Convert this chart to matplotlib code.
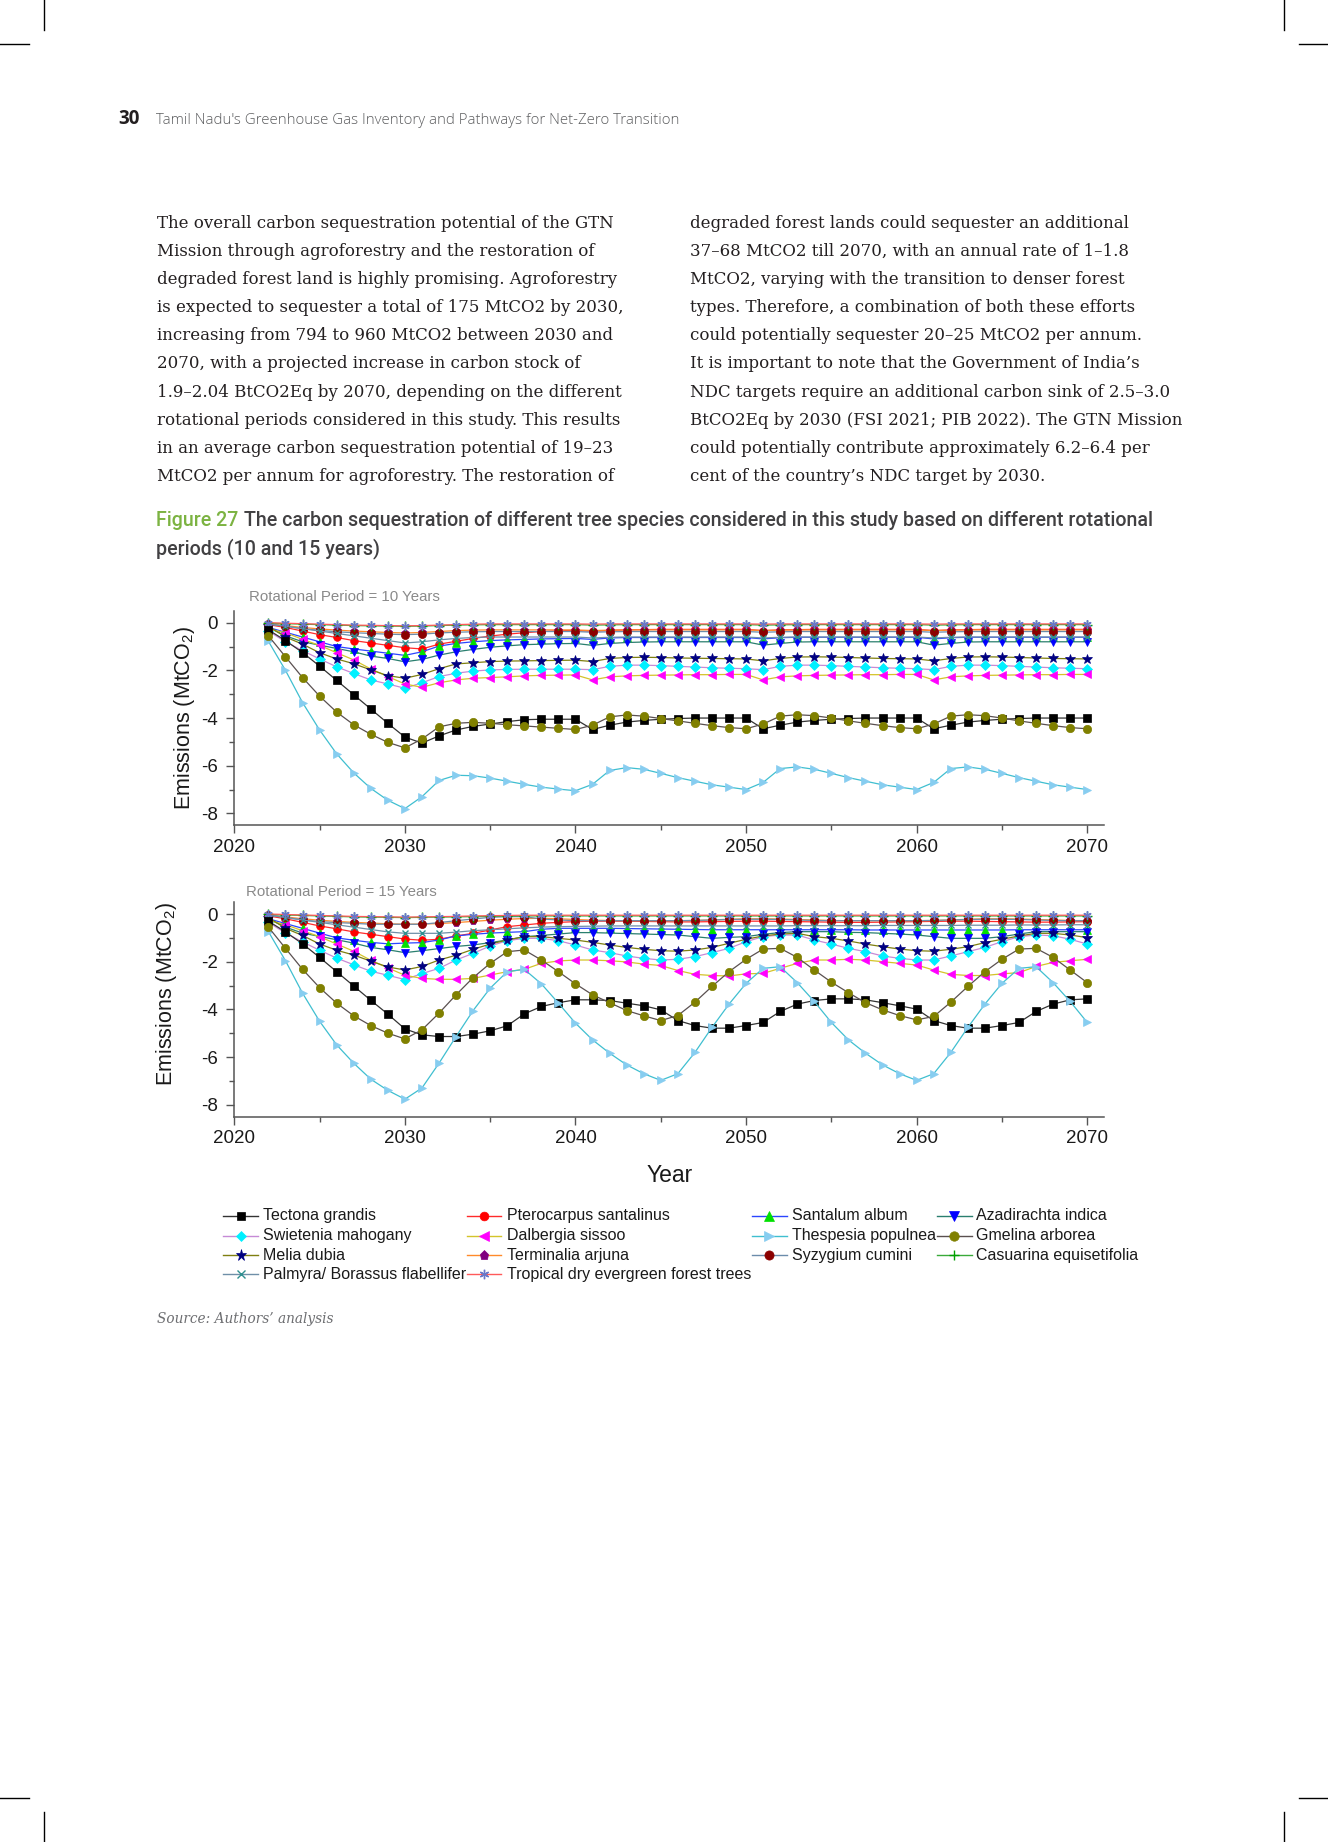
import matplotlib.pyplot as plt
from matplotlib.lines import Line2D
from matplotlib.ticker import MultipleLocator

plt.rcParams['font.family'] = ['Liberation Sans', 'DejaVu Sans']
plt.rcParams['mathtext.fontset'] = 'custom'
plt.rcParams['mathtext.rm'] = 'Liberation Sans'
plt.rcParams['mathtext.default'] = 'rm'
plt.rcParams['axes.unicode_minus'] = False

# ---------------- data ----------------
years = list(range(2022, 2071))

species = ['Tectona grandis', 'Pterocarpus santalinus', 'Santalum album', 'Azadirachta indica',
           'Swietenia mahogany', 'Dalbergia sissoo', 'Thespesia populnea', 'Gmelina arborea',
           'Melia dubia', 'Terminalia arjuna', 'Syzygium cumini', 'Casuarina equisetifolia',
           'Palmyra/ Borassus flabellifer', 'Tropical dry evergreen forest trees']

# rotational period = 10 years
tectona_10 = [-0.30, -0.75, -1.25, -1.82, -2.42, -3.02, -3.62, -4.22, -4.80, -5.05,
              -4.75, -4.50, -4.35, -4.25, -4.15, -4.07, -4.05, -4.05, -4.05, -4.48,
              -4.30, -4.17, -4.10, -4.05, -4.02, -4.00, -4.00, -4.00, -4.00, -4.45,
              -4.30, -4.17, -4.10, -4.05, -4.02, -4.00, -4.00, -4.00, -4.00, -4.45,
              -4.30, -4.17, -4.10, -4.05, -4.02, -4.00, -4.00, -4.00, -4.00]
pterocarpus_10 = [-0.08, -0.20, -0.35, -0.50, -0.62, -0.75, -0.85, -0.95, -1.05, -1.10,
                  -0.90, -0.78, -0.66, -0.56, -0.48, -0.42, -0.37, -0.34, -0.32, -0.36,
                  -0.32, -0.30, -0.29, -0.28, -0.28, -0.28, -0.28, -0.28, -0.28, -0.33,
                  -0.30, -0.29, -0.28, -0.28, -0.28, -0.28, -0.28, -0.28, -0.28, -0.33,
                  -0.30, -0.29, -0.28, -0.28, -0.28, -0.28, -0.28, -0.28, -0.28]
santalum_10 = [-0.20, -0.40, -0.60, -0.80, -1.00, -1.10, -1.19, -1.28, -1.37, -1.22,
               -0.98, -0.87, -0.80, -0.75, -0.72, -0.70, -0.68, -0.67, -0.66, -0.70,
               -0.64, -0.62, -0.62, -0.62, -0.62, -0.62, -0.62, -0.62, -0.62, -0.68,
               -0.63, -0.61, -0.61, -0.61, -0.61, -0.61, -0.61, -0.61, -0.61, -0.68,
               -0.63, -0.61, -0.61, -0.61, -0.61, -0.61, -0.61, -0.61, -0.61]
azadirachta_10 = [-0.20, -0.55, -0.80, -0.94, -1.08, -1.22, -1.40, -1.50, -1.64, -1.54,
                  -1.36, -1.22, -1.12, -1.03, -0.97, -0.92, -0.90, -0.88, -0.87, -0.95,
                  -0.87, -0.83, -0.81, -0.80, -0.80, -0.80, -0.80, -0.80, -0.80, -0.94,
                  -0.87, -0.81, -0.80, -0.80, -0.80, -0.80, -0.80, -0.80, -0.80, -0.94,
                  -0.87, -0.81, -0.80, -0.80, -0.80, -0.80, -0.80, -0.80, -0.80]
swietenia_10 = [-0.35, -0.80, -1.17, -1.52, -1.85, -2.13, -2.40, -2.57, -2.75, -2.52,
                -2.26, -2.12, -2.03, -1.98, -1.96, -1.95, -1.95, -1.95, -1.95, -1.97,
                -1.83, -1.78, -1.78, -1.80, -1.83, -1.86, -1.89, -1.91, -1.93, -1.97,
                -1.83, -1.78, -1.78, -1.80, -1.83, -1.86, -1.89, -1.91, -1.93, -1.97,
                -1.83, -1.78, -1.78, -1.80, -1.83, -1.86, -1.89, -1.91, -1.93]
dalbergia_10 = [-0.27, -0.42, -0.70, -0.95, -1.26, -1.56, -1.94, -2.26, -2.57, -2.71,
                -2.52, -2.40, -2.33, -2.30, -2.27, -2.23, -2.21, -2.20, -2.19, -2.40,
                -2.27, -2.23, -2.21, -2.20, -2.19, -2.18, -2.18, -2.17, -2.17, -2.40,
                -2.27, -2.23, -2.21, -2.20, -2.19, -2.18, -2.18, -2.17, -2.17, -2.40,
                -2.27, -2.23, -2.21, -2.20, -2.19, -2.18, -2.18, -2.17, -2.17]
thespesia_10 = [-0.78, -2.00, -3.35, -4.50, -5.50, -6.30, -6.95, -7.45, -7.80, -7.30,
                -6.62, -6.40, -6.42, -6.52, -6.65, -6.78, -6.90, -6.98, -7.05, -6.78,
                -6.20, -6.08, -6.15, -6.32, -6.50, -6.65, -6.80, -6.90, -7.00, -6.70,
                -6.12, -6.05, -6.15, -6.32, -6.50, -6.65, -6.80, -6.90, -7.00, -6.70,
                -6.12, -6.05, -6.15, -6.32, -6.50, -6.65, -6.80, -6.90, -7.00]
gmelina_10 = [-0.55, -1.43, -2.30, -3.08, -3.75, -4.28, -4.68, -5.02, -5.25, -4.88,
              -4.37, -4.22, -4.18, -4.22, -4.28, -4.33, -4.38, -4.43, -4.48, -4.30,
              -3.95, -3.87, -3.92, -4.02, -4.12, -4.22, -4.32, -4.40, -4.45, -4.25,
              -3.92, -3.86, -3.90, -4.00, -4.12, -4.22, -4.32, -4.40, -4.45, -4.25,
              -3.92, -3.86, -3.90, -4.00, -4.12, -4.22, -4.32, -4.40, -4.45]
melia_10 = [-0.15, -0.60, -0.90, -1.26, -1.52, -1.72, -1.98, -2.22, -2.33, -2.17,
            -1.93, -1.73, -1.68, -1.63, -1.61, -1.60, -1.59, -1.58, -1.57, -1.63,
            -1.50, -1.46, -1.45, -1.46, -1.48, -1.49, -1.50, -1.51, -1.52, -1.60,
            -1.50, -1.44, -1.43, -1.44, -1.46, -1.48, -1.50, -1.51, -1.52, -1.60,
            -1.50, -1.44, -1.43, -1.44, -1.46, -1.48, -1.50, -1.51, -1.52]
terminalia_10 = [-0.05, -0.12, -0.20, -0.26, -0.31, -0.35, -0.38, -0.41, -0.43, -0.41,
                 -0.37, -0.33, -0.31, -0.30, -0.30, -0.30, -0.30, -0.30, -0.30, -0.33,
                 -0.31, -0.30, -0.30, -0.30, -0.30, -0.30, -0.30, -0.30, -0.30, -0.33,
                 -0.31, -0.30, -0.30, -0.30, -0.30, -0.30, -0.30, -0.30, -0.30, -0.33,
                 -0.31, -0.30, -0.30, -0.30, -0.30, -0.30, -0.30, -0.30, -0.30]
syzygium_10 = [-0.06, -0.15, -0.25, -0.32, -0.38, -0.42, -0.45, -0.48, -0.50, -0.48,
               -0.43, -0.40, -0.38, -0.37, -0.37, -0.37, -0.37, -0.37, -0.37, -0.40,
               -0.38, -0.37, -0.37, -0.37, -0.37, -0.37, -0.37, -0.37, -0.37, -0.40,
               -0.38, -0.37, -0.37, -0.37, -0.37, -0.37, -0.37, -0.37, -0.37, -0.40,
               -0.38, -0.37, -0.37, -0.37, -0.37, -0.37, -0.37, -0.37, -0.37]
casuarina_10 = [-0.02, -0.04, -0.06, -0.08, -0.10, -0.12, -0.13, -0.14, -0.15, -0.14,
                -0.12, -0.10, -0.09, -0.08, -0.08, -0.08, -0.08, -0.08, -0.08, -0.10,
                -0.09, -0.08, -0.08, -0.08, -0.08, -0.08, -0.08, -0.08, -0.08, -0.10,
                -0.09, -0.08, -0.08, -0.08, -0.08, -0.08, -0.08, -0.08, -0.08, -0.10,
                -0.09, -0.08, -0.08, -0.08, -0.08, -0.08, -0.08, -0.08, -0.08]
palmyra_10 = [-0.05, -0.15, -0.25, -0.35, -0.45, -0.55, -0.65, -0.75, -0.85, -0.80,
              -0.72, -0.66, -0.62, -0.60, -0.60, -0.60, -0.60, -0.60, -0.60, -0.64,
              -0.61, -0.60, -0.60, -0.60, -0.60, -0.60, -0.60, -0.60, -0.60, -0.64,
              -0.61, -0.60, -0.60, -0.60, -0.60, -0.60, -0.60, -0.60, -0.60, -0.64,
              -0.61, -0.60, -0.60, -0.60, -0.60, -0.60, -0.60, -0.60, -0.60]
tropical_10 = [0.00, -0.02, -0.04, -0.06, -0.08, -0.10, -0.11, -0.12, -0.13, -0.12,
               -0.10, -0.08, -0.06, -0.05, -0.05, -0.05, -0.05, -0.05, -0.05, -0.06,
               -0.05, -0.05, -0.05, -0.05, -0.05, -0.05, -0.05, -0.05, -0.05, -0.06,
               -0.05, -0.05, -0.05, -0.05, -0.05, -0.05, -0.05, -0.05, -0.05, -0.06,
               -0.05, -0.05, -0.05, -0.05, -0.05, -0.05, -0.05, -0.05, -0.05]

# rotational period = 15 years
tectona_15 = [-0.30, -0.75, -1.25, -1.82, -2.42, -3.02, -3.62, -4.20, -4.82, -5.07,
              -5.14, -5.14, -5.04, -4.90, -4.69, -4.19, -3.88, -3.72, -3.60, -3.60,
              -3.63, -3.74, -3.85, -4.02, -4.47, -4.68, -4.79, -4.79, -4.68, -4.55,
              -4.09, -3.78, -3.63, -3.56, -3.56, -3.60, -3.72, -3.85, -3.99, -4.47,
              -4.68, -4.79, -4.79, -4.68, -4.55, -4.09, -3.78, -3.60, -3.56]
pterocarpus_15 = [-0.08, -0.20, -0.35, -0.50, -0.62, -0.75, -0.85, -0.95, -1.05, -1.10,
                  -1.06, -0.92, -0.81, -0.67, -0.53, -0.46, -0.39, -0.35, -0.32, -0.30,
                  -0.30, -0.30, -0.31, -0.32, -0.33, -0.33, -0.32, -0.31, -0.30, -0.30,
                  -0.31, -0.32, -0.33, -0.34, -0.35, -0.35, -0.34, -0.33, -0.32, -0.31,
                  -0.30, -0.30, -0.31, -0.32, -0.33, -0.34, -0.34, -0.33, -0.32]
santalum_15 = [-0.20, -0.40, -0.60, -0.80, -1.00, -1.10, -1.19, -1.25, -1.22, -1.20,
               -1.09, -0.92, -0.85, -0.80, -0.77, -0.74, -0.64, -0.60, -0.60, -0.60,
               -0.60, -0.61, -0.62, -0.63, -0.64, -0.65, -0.66, -0.66, -0.66, -0.66,
               -0.66, -0.66, -0.66, -0.66, -0.66, -0.67, -0.67, -0.67, -0.67, -0.67,
               -0.67, -0.67, -0.67, -0.67, -0.66, -0.66, -0.66, -0.66, -0.66]
azadirachta_15 = [-0.20, -0.55, -0.80, -0.94, -1.08, -1.22, -1.40, -1.50, -1.62, -1.54,
                  -1.45, -1.36, -1.30, -1.20, -1.09, -0.95, -0.90, -0.84, -0.78, -0.78,
                  -0.80, -0.82, -0.84, -0.86, -0.88, -0.95, -1.02, -0.98, -0.95, -0.85,
                  -0.78, -0.74, -0.74, -0.74, -0.77, -0.78, -0.81, -0.84, -0.88, -0.95,
                  -1.02, -1.02, -1.02, -0.95, -0.84, -0.74, -0.74, -0.74, -0.74]
swietenia_15 = [-0.35, -0.80, -1.17, -1.52, -1.85, -2.13, -2.40, -2.57, -2.75, -2.50,
                -2.28, -1.93, -1.65, -1.34, -1.12, -1.02, -1.02, -1.12, -1.30, -1.51,
                -1.62, -1.76, -1.86, -1.93, -1.90, -1.79, -1.62, -1.44, -1.16, -0.95,
                -0.88, -0.88, -1.09, -1.26, -1.44, -1.58, -1.76, -1.86, -1.93, -1.93,
                -1.76, -1.58, -1.40, -1.16, -0.95, -0.88, -0.91, -1.06, -1.26]
dalbergia_15 = [-0.27, -0.45, -0.70, -0.95, -1.26, -1.56, -1.94, -2.26, -2.57, -2.70,
                -2.74, -2.74, -2.70, -2.56, -2.42, -2.32, -2.07, -1.97, -1.93, -1.93,
                -1.96, -2.01, -2.10, -2.16, -2.37, -2.53, -2.58, -2.60, -2.51, -2.49,
                -2.28, -2.07, -1.93, -1.93, -1.90, -1.93, -2.00, -2.07, -2.14, -2.35,
                -2.53, -2.58, -2.58, -2.51, -2.46, -2.20, -2.03, -1.96, -1.90]
thespesia_15 = [-0.74, -1.96, -3.32, -4.50, -5.49, -6.26, -6.93, -7.40, -7.77, -7.30,
                -6.26, -5.14, -4.05, -3.11, -2.42, -2.32, -2.93, -3.74, -4.58, -5.28,
                -5.84, -6.33, -6.70, -6.98, -6.70, -5.81, -4.76, -3.78, -2.91, -2.28,
                -2.21, -2.88, -3.67, -4.55, -5.28, -5.84, -6.33, -6.70, -6.98, -6.70,
                -5.81, -4.76, -3.78, -2.91, -2.28, -2.21, -2.88, -3.67, -4.55]
gmelina_15 = [-0.55, -1.44, -2.32, -3.09, -3.74, -4.27, -4.68, -5.00, -5.24, -4.86,
              -4.16, -3.39, -2.67, -2.07, -1.58, -1.51, -1.93, -2.42, -2.93, -3.39,
              -3.72, -4.05, -4.27, -4.47, -4.26, -3.70, -3.04, -2.42, -1.90, -1.47,
              -1.44, -1.82, -2.35, -2.86, -3.30, -3.72, -4.02, -4.26, -4.44, -4.30,
              -3.70, -3.04, -2.42, -1.90, -1.47, -1.44, -1.82, -2.35, -2.88]
melia_15 = [-0.15, -0.60, -0.90, -1.26, -1.52, -1.72, -1.98, -2.22, -2.35, -2.20,
            -1.93, -1.73, -1.48, -1.26, -1.09, -0.95, -0.95, -1.02, -1.09, -1.19,
            -1.30, -1.40, -1.48, -1.54, -1.56, -1.51, -1.40, -1.23, -1.06, -0.92,
            -0.84, -0.81, -0.95, -1.02, -1.13, -1.26, -1.37, -1.47, -1.54, -1.56,
            -1.48, -1.37, -1.20, -1.06, -0.92, -0.81, -0.81, -0.88, -0.99]
terminalia_15 = [-0.05, -0.12, -0.20, -0.26, -0.31, -0.35, -0.38, -0.41, -0.43, -0.42,
                 -0.40, -0.36, -0.31, -0.26, -0.22, -0.19, -0.18, -0.20, -0.23, -0.26,
                 -0.27, -0.28, -0.28, -0.28, -0.28, -0.27, -0.25, -0.22, -0.20, -0.20,
                 -0.21, -0.23, -0.25, -0.27, -0.28, -0.28, -0.28, -0.28, -0.28, -0.27,
                 -0.25, -0.22, -0.20, -0.20, -0.21, -0.23, -0.25, -0.27, -0.28]
syzygium_15 = [-0.04, -0.14, -0.25, -0.32, -0.36, -0.39, -0.43, -0.43, -0.43, -0.43,
               -0.36, -0.28, -0.21, -0.14, -0.11, -0.11, -0.21, -0.25, -0.28, -0.28,
               -0.28, -0.28, -0.28, -0.28, -0.28, -0.27, -0.25, -0.23, -0.22, -0.22,
               -0.23, -0.25, -0.27, -0.28, -0.28, -0.28, -0.28, -0.28, -0.28, -0.27,
               -0.25, -0.23, -0.22, -0.22, -0.23, -0.25, -0.27, -0.28, -0.28]
casuarina_15 = [-0.02, -0.04, -0.06, -0.08, -0.10, -0.12, -0.13, -0.14, -0.15, -0.14,
                -0.13, -0.12, -0.11, -0.10, -0.09, -0.08, -0.08, -0.08, -0.08, -0.08,
                -0.08, -0.08, -0.08, -0.08, -0.08, -0.08, -0.08, -0.08, -0.08, -0.08,
                -0.08, -0.08, -0.08, -0.08, -0.08, -0.08, -0.08, -0.08, -0.08, -0.08,
                -0.08, -0.08, -0.08, -0.08, -0.08, -0.08, -0.08, -0.08, -0.08]
palmyra_15 = [-0.05, -0.15, -0.25, -0.35, -0.45, -0.55, -0.65, -0.75, -0.81, -0.81,
              -0.81, -0.76, -0.70, -0.66, -0.62, -0.58, -0.55, -0.53, -0.52, -0.51,
              -0.50, -0.50, -0.50, -0.50, -0.50, -0.50, -0.50, -0.50, -0.50, -0.50,
              -0.50, -0.49, -0.49, -0.49, -0.49, -0.49, -0.48, -0.48, -0.48, -0.48,
              -0.48, -0.47, -0.47, -0.47, -0.46, -0.46, -0.46, -0.45, -0.45]
tropical_15 = [0.00, -0.02, -0.04, -0.06, -0.08, -0.10, -0.11, -0.12, -0.13, -0.12,
               -0.11, -0.10, -0.08, -0.07, -0.06, -0.05, -0.05, -0.05, -0.05, -0.05,
               -0.05, -0.05, -0.05, -0.05, -0.05, -0.05, -0.05, -0.05, -0.05, -0.05,
               -0.05, -0.05, -0.05, -0.05, -0.05, -0.05, -0.05, -0.05, -0.05, -0.05,
               -0.05, -0.05, -0.05, -0.05, -0.05, -0.05, -0.05, -0.05, -0.05]

series_10 = [tectona_10, pterocarpus_10, santalum_10, azadirachta_10, swietenia_10,
             dalbergia_10, thespesia_10, gmelina_10, melia_10, terminalia_10,
             syzygium_10, casuarina_10, palmyra_10, tropical_10]
series_15 = [tectona_15, pterocarpus_15, santalum_15, azadirachta_15, swietenia_15,
             dalbergia_15, thespesia_15, gmelina_15, melia_15, terminalia_15,
             syzygium_15, casuarina_15, palmyra_15, tropical_15]

# Origin-style look: line colour differs from marker colour
line_colors = ['#333333', '#ff2a2a', '#2b45ff', '#2a7f6f', '#c68ad6', '#d4c42a', '#3fbfd0',
               '#5a5050', '#7f7f10', '#ff8a2a', '#6b8cab', '#3aaa3a', '#6f8fa8', '#ff5a5a']
marker_colors = ['#000000', '#ff0000', '#00e000', '#0000ff', '#00f0ff', '#ff00ff', '#87cdf0',
                 '#808000', '#000080', '#800080', '#8b0000', '#00a000', '#2f8f8f', '#6a78c8']
markers = ['s', 'o', '^', 'v', 'D', '<', '>', 'o', '*', 'p', 'o', '+', 'x', (6, 2, 0)]
msizes = [5.2, 5.5, 5.8, 5.8, 4.6, 6.0, 6.0, 6.0, 7.5, 6.0, 5.8, 6.5, 5.0, 6.0]

# ---------------- page ----------------
W, H = 1328, 1842
fig = plt.figure(figsize=(W / 100, H / 100), dpi=100, facecolor='white')
renderer = fig.canvas.get_renderer()


def text_px(x, y, s, **kw):
    return fig.text(x / W, 1 - y / H, s, **kw)


def width_of(s, size, **kw):
    t = fig.text(0, 0, s, fontsize=size, **kw)
    w = t.get_window_extent(renderer).width
    t.remove()
    return w


def fit_size(s, width, **kw):
    return 20 * width / width_of(s, 20, **kw)


def line_px(xs, ys, **kw):
    fig.add_artist(Line2D([x / W for x in xs], [1 - y / H for y in ys],
                          transform=fig.transFigure, **kw))


# crop marks
for x in (44, 1284):
    line_px([x, x], [0, 30], color='black', lw=1)
    line_px([x, x], [1812, 1842], color='black', lw=1)
for y in (44, 1798):
    line_px([0, 29], [y, y], color='black', lw=1)
    line_px([1299, 1328], [y, y], color='black', lw=1)

# running header
head_kw = dict(family=['Open Sans', 'DejaVu Sans'], fontweight='light')
head = "Tamil Nadu's Greenhouse Gas Inventory and Pathways for Net-Zero Transition"
hs = fit_size(head, 523, **head_kw)
text_px(156.5, 124.5, head, fontsize=hs, color='#5d5e60', va='baseline', **head_kw)
text_px(118.5, 124.5, '30', fontsize=hs * 1.25, color='#231f20', va='baseline',
        family=['Open Sans', 'DejaVu Sans'], fontweight='bold')

# body text
left_col = [
    "The overall carbon sequestration potential of the GTN",
    "Mission through agroforestry and the restoration of",
    "degraded forest land is highly promising. Agroforestry",
    "is expected to sequester a total of 175 MtCO2 by 2030,",
    "increasing from 794 to 960 MtCO2 between 2030 and",
    "2070, with a projected increase in carbon stock of",
    "1.9–2.04 BtCO2Eq by 2070, depending on the different",
    "rotational periods considered in this study. This results",
    "in an average carbon sequestration potential of 19–23",
    "MtCO2 per annum for agroforestry. The restoration of",
]
right_col = [
    "degraded forest lands could sequester an additional",
    "37–68 MtCO2 till 2070, with an annual rate of 1–1.8",
    "MtCO2, varying with the transition to denser forest",
    "types. Therefore, a combination of both these efforts",
    "could potentially sequester 20–25 MtCO2 per annum.",
    "It is important to note that the Government of India’s",
    "NDC targets require an additional carbon sink of 2.5–3.0",
    "BtCO2Eq by 2030 (FSI 2021; PIB 2022). The GTN Mission",
    "could potentially contribute approximately 6.2–6.4 per",
    "cent of the country’s NDC target by 2030.",
]
body_kw = dict(family=['DejaVu Serif'], color='#231f20', va='baseline')
bs = fit_size(left_col[0], 456, family=['DejaVu Serif'])
for i, s in enumerate(left_col):
    text_px(157, 227.5 + 28.2 * i, s, fontsize=bs, **body_kw)
for i, s in enumerate(right_col):
    text_px(690, 227.5 + 28.2 * i, s, fontsize=bs, **body_kw)

# figure caption
cap_kw = dict(family=['Roboto', 'DejaVu Sans'], fontweight='medium')
cap1 = 'The carbon sequestration of different tree species considered in this study based on different rotational'
cs = fit_size('Figure 27 ' + cap1, 998, **cap_kw)
text_px(156.5, 526.5, 'Figure 27', fontsize=cs, color='#7cb342', va='baseline', **cap_kw)
x_rest = 156.5 + width_of('Figure 27 T', cs, **cap_kw) - width_of('T', cs, **cap_kw)
text_px(x_rest, 526.5, cap1, fontsize=cs, color='#414042', va='baseline', **cap_kw)
text_px(156.5, 554.5, 'periods (10 and 15 years)', fontsize=cs, color='#414042',
        va='baseline', **cap_kw)

# source line
src_kw = dict(family=['DejaVu Serif'], style='italic')
ss = fit_size('Source: Authors’ analysis', 176, **src_kw)
text_px(157, 1323, 'Source: Authors’ analysis', fontsize=ss, color='#6d6e71',
        va='baseline', **src_kw)

# ---------------- charts ----------------
def add_axes_px(left, top, right, bottom):
    return fig.add_axes([left / W, 1 - bottom / H, (right - left) / W, (bottom - top) / H])


ax1 = add_axes_px(234.3, 610.8, 1104.3, 825.3)
ax2 = add_axes_px(234.3, 902.1, 1104.3, 1116.6)

for ax, data, title, tx, ty, lab_x, lab_y in [
        (ax1, series_10, 'Rotational Period = 10 Years', 249, 597.3, -0.043, 0.5),
        (ax2, series_15, 'Rotational Period = 15 Years', 246, 891.7, -0.063, 0.57)]:
    for k, vals in enumerate(data):
        ax.plot(years, vals, color=line_colors[k], lw=0.9, marker=markers[k],
                markersize=msizes[k], markerfacecolor=marker_colors[k],
                markeredgecolor=marker_colors[k], markeredgewidth=1.0 if k >= 11 else 0.5,
                zorder=3 + (k in (0, 6, 7)))
    ax.set_xlim(2020, 2071)
    ax.set_ylim(-8.5, 0.5)
    ax.patch.set_alpha(0)
    for side in ('top', 'right'):
        ax.spines[side].set_visible(False)
    for side in ('left', 'bottom'):
        ax.spines[side].set_color('#555555')
        ax.spines[side].set_linewidth(1.1)
    ax.xaxis.set_major_locator(MultipleLocator(10))
    ax.xaxis.set_minor_locator(MultipleLocator(5))
    ax.yaxis.set_major_locator(MultipleLocator(2))
    ax.yaxis.set_minor_locator(MultipleLocator(1))
    ax.tick_params(which='major', direction='out', length=6, width=1, color='#555555',
                   labelcolor='#1a1a1a', labelsize=13.5)
    ax.tick_params(which='minor', direction='out', length=3.5, width=1, color='#555555')
    ax.tick_params(axis='x', pad=4)
    ax.tick_params(axis='y', pad=6)
    ax.set_ylabel('Emissions (MtCO$_2$)', fontsize=15.5, color='#1a1a1a')
    ax.yaxis.set_label_coords(lab_x, lab_y)
    text_px(tx, ty, title, fontsize=10.8, color='#8a8a8a', va='center')

text_px(670, 1175, 'Year', fontsize=16.5, color='#1a1a1a', ha='center', va='center')

# ---------------- legend (4 columns, drawn by hand) ----------------
col_x = [223, 466.5, 751.5, 936.5]
row_y = [1215.7, 1235.7, 1255.3, 1274.3]
for k, name in enumerate(species):
    x0, y0 = col_x[k % 4], row_y[k // 4]
    line_px([x0, x0 + 35], [y0, y0], color=line_colors[k], lw=1.0)
    fig.add_artist(Line2D([(x0 + 17.5) / W], [1 - y0 / H], transform=fig.transFigure,
                          marker=markers[k], markersize=msizes[k] + 0.8, linestyle='none',
                          markerfacecolor=marker_colors[k], markeredgecolor=marker_colors[k],
                          markeredgewidth=1.0 if k >= 11 else 0.5))
    text_px(x0 + 40, y0, name, fontsize=11.5, color='#1a1a1a', va='center')

fig.savefig('out.png', dpi=100, facecolor='white')
